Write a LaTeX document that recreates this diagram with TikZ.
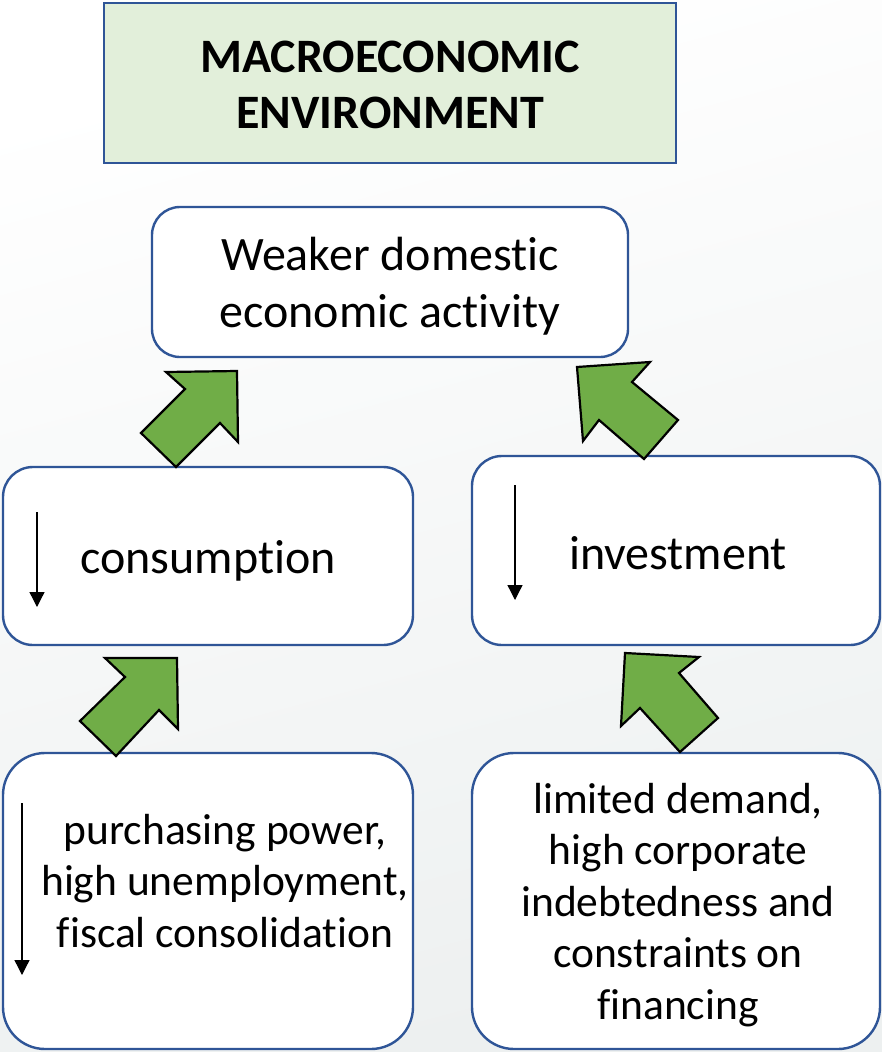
\documentclass[tikz,border=0pt]{standalone}
\usepackage{fontspec}
\setmainfont{Carlito}[Ligatures={NoCommon,NoContextual}]
\usetikzlibrary{arrows.meta}
\definecolor{boxblue}{HTML}{2F5597}
\definecolor{titlegreen}{HTML}{E2EFDA}
\definecolor{arrowgreen}{HTML}{70AD47}
\definecolor{bgbottom}{HTML}{EDF0F0}
\begin{document}
\begin{tikzpicture}[x=1pt,y=-1pt,
  titlebox/.style={draw=boxblue,line width=2.4pt,fill=titlegreen,inner sep=0pt,
    minimum width=572pt,minimum height=160pt},
  roundbox/.style={draw=boxblue,line width=2.4pt,fill=white,inner sep=0pt,rounded corners=#1},
  roundbox/.default=30pt,
  bodytext/.style={align=center,inner sep=0pt,font=\fontsize{43.5}{51.5}\selectfont},
  bigtext/.style={align=center,inner sep=0pt,font=\fontsize{48}{57}\selectfont},
  blockarrow/.style={draw=black,line width=2.2pt,fill=arrowgreen,line join=miter},
  downmark/.style={line width=1.3pt,-{Triangle[length=15pt,width=15pt]}}]
% page and soft background
\useasboundingbox (0,0) rectangle (882,1052);
\shade[top color=white,bottom color=bgbottom,shading angle=15] (0,0) rectangle (882,1052);

% title
\node[titlebox] (title) at (390,83) {};
\node[align=center,inner sep=0pt,font=\fontsize{48}{56}\selectfont\bfseries] (titletext) at (390,85)
  {MACROECONOMIC\\ENVIRONMENT};

% boxes
\draw[roundbox=28pt] (152,207) rectangle (628,357);
\draw[roundbox=30pt] (3,467) rectangle (413,645);
\draw[roundbox=30pt] (472,456) rectangle (880,645);
\draw[roundbox=42pt] (3,753) rectangle (413,1049);
\draw[roundbox=42pt] (472,753) rectangle (880,1049);

% texts
\node[bigtext] (weaktext) at (390,286) {Weaker domestic\\economic activity};
\node[bigtext] (constext) at (208,561) {consumption};
\node[bigtext] (invtext) at (678,553) {investment};
\node[bodytext] (pptext) at (225,881) {purchasing power,\\high unemployment,\\fiscal consolidation};
\node[bodytext] (ldtext) at (678,905) {limited demand,\\high corporate\\indebtedness and\\constraints on\\financing};

% falling markers
\coordinate (c1) at (37,512); \coordinate (c2) at (37,607);
\draw[downmark] (c1) -- (c2);
\coordinate (i1) at (515,485); \coordinate (i2) at (515,600);
\draw[downmark] (i1) -- (i2);
\coordinate (p1) at (22,803); \coordinate (p2) at (22,975);
\draw[downmark] (p1) -- (p2);

% block arrows between levels
\draw[blockarrow] (176,467) -- (141,433) -- (185,389) -- (166,372) -- (237,371) -- (238,442) -- (220,423) -- cycle;
\draw[blockarrow] (577,367) -- (650,362) -- (632,382) -- (678,420) -- (644,459) -- (599,420) -- (583,441) -- cycle;
\draw[blockarrow] (105,658) -- (177,658) -- (178,729) -- (159,710) -- (116,756) -- (80,721) -- (125,677) -- cycle;
\draw[blockarrow] (625,653) -- (699,657) -- (679,673) -- (718,718) -- (680,752) -- (640,708) -- (621,726) -- cycle;
\end{tikzpicture}
\end{document}
